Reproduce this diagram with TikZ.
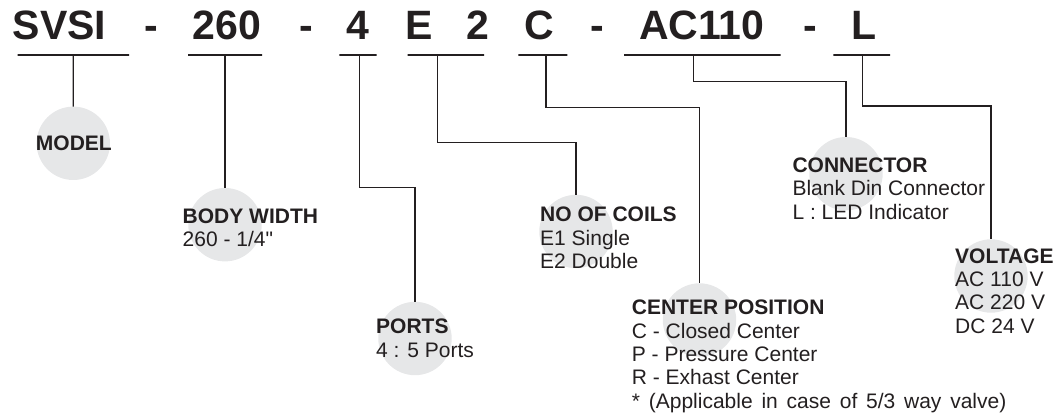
\documentclass[tikz,border=0pt]{standalone}
\usepackage{fontspec}
\setmainfont{Liberation Sans}[Ligatures=TeXOff]
\usetikzlibrary{positioning}
\definecolor{ink}{HTML}{231F20}
\definecolor{disc}{HTML}{E6E7E8}
\tikzset{
  code/.style={font=\fontsize{41}{41}\selectfont\bfseries, text=ink, anchor=base, inner sep=0pt},
  bar/.style={draw=ink, line width=1.2pt, inner sep=0pt, minimum height=0pt, outer sep=0pt},
  disc/.style={circle, fill=disc, draw=none, minimum size=73.4pt, inner sep=0pt, outer sep=0pt},
  lbl/.style={font=\fontsize{21}{23.33}\selectfont, text=ink, align=left, anchor=base west, inner sep=0pt},
  link/.style={draw=ink, line width=1.2pt}
}
\begin{document}
\begin{tikzpicture}[x=1pt,y=-1pt]
  \useasboundingbox (0,0) rectangle (1062,414);

  % grey discs
  \node (model) [disc] at (73.3,143.3) {};
  \node (body) [disc] at (225,224.7) {};
  \node (ports) [disc] at (415,338.5) {};
  \node (coils) [disc] at (576,231.5) {};
  \node (centerpos) [disc] at (699.5,320) {};
  \node (conn) [disc] at (846,173.7) {};
  \node (volt) [disc] at (991,276) {};

  % order code
  \node (tSVSI) [code] at (59.5,39.3) {SVSI};
  \node (tDashA) [code] at (151.5,39.3) {-};
  \node (t260) [code] at (227.2,39.3) {260};
  \node (tDashB) [code] at (306.5,39.3) {-};
  \node (t4) [code] at (358,39.3) {4};
  \node (tE) [code] at (418.9,39.3) {E};
  \node (t2) [code] at (478,39.3) {2};
  \node (tC) [code] at (539.4,39.3) {C};
  \node (tDashC) [code] at (597.5,39.3) {-};
  \node (tAC) [code] at (701.7,39.3) {AC110};
  \node (tDashD) [code] at (810.8,39.3) {-};
  \node (tL) [code] at (864.5,39.3) {L};

  % underlines
  \node (barModel) [bar, minimum width=111.3pt] at (73.35,55) {};
  \node (barBody) [bar, minimum width=74pt] at (225,55) {};
  \node (barPorts) [bar, minimum width=37.4pt] at (358,55) {};
  \node (barCoils) [bar, minimum width=76.3pt] at (445.85,55) {};
  \node (barCenter) [bar, minimum width=49pt] at (542.8,55) {};
  \node (barConn) [bar, minimum width=156.7pt] at (702.35,55) {};
  \node (barVolt) [bar, minimum width=56.7pt] at (861.65,55) {};

  % leaders
  \draw[link] (barModel.center) -- (model.north);
  \draw[link] (barBody.center) -- (body.north);
  \draw[link] ([xshift=1.3pt]barPorts.center) -- ++(0,132.7) -| (ports.north);
  \draw[link] ([xshift=-8.6pt]barCoils.center) -- ++(0,87.7) -| (coils.north);
  \draw[link] ([xshift=3.2pt]barCenter.center) -- ++(0,52.3) -| (centerpos.north);
  \draw[link] ([xshift=-9pt]barConn.center) -- ++(0,26.7) -| (conn.north);
  \draw[link] ([xshift=1pt]barVolt.center) -- ++(0,51) -| (volt.north);

  % captions (anchored on the last baseline)
  \node (capModel) [lbl, anchor=base] at (73.9,150.7) {\bfseries MODEL};
  \node (capBody) [lbl] at (182.5,246.7) {\bfseries BODY WIDTH\\260 - 1/4"};
  \node (capPorts) [lbl] at (376,357.3) {\bfseries PORTS\\4 : 5 Ports};
  \node (capCoils) [lbl] at (540,268.4) {\bfseries NO OF COILS\\E1 Single\\E2 Double};
  \node (capCenter) [lbl] at (631.7,408.3) {\bfseries CENTER POSITION\\C - Closed Center\\P - Pressure Center\\R - Exhast Center\\{\spaceskip=8.8pt * (Applicable in case of 5/3 way valve)}};
  \node (capConn) [lbl] at (792.3,219) {\bfseries CONNECTOR\\Blank Din Connector\\L : LED Indicator};
  \node (capVolt) [lbl] at (955,333.3) {\bfseries VOLTAGE\\AC 110 V\\AC 220 V\\DC 24 V};
\end{tikzpicture}
\end{document}
